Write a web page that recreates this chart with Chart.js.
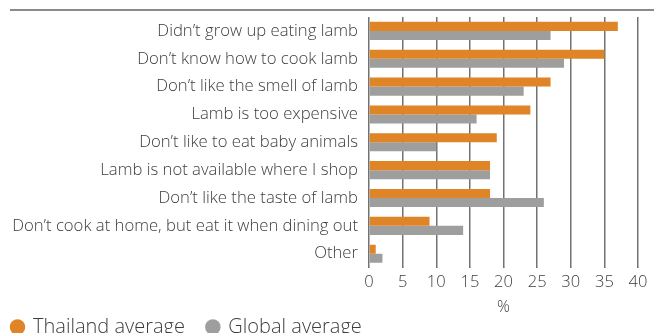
<!DOCTYPE html>
<html>
<head>
<meta charset="utf-8">
<script src="https://cdn.jsdelivr.net/npm/chart.js@4"></script>
<style>
  html, body { margin: 0; padding: 0; background: #fff; overflow: hidden; }
  #wrap { width: 654px; height: 347px; }
</style>
</head>
<body>
<div id="wrap"><canvas id="chart"></canvas></div>
<script>
const reasons = [
  "Didn\u2019t grow up eating lamb",
  "Don\u2019t know how to cook lamb",
  "Don\u2019t like the smell of lamb",
  "Lamb is too expensive",
  "Don\u2019t like to eat baby animals",
  "Lamb is not available where I shop",
  "Don\u2019t like the taste of lamb",
  "Don\u2019t cook at home, but eat it when dining out",
  "Other"
];
const thailand = [37, 35, 27, 24, 19, 18, 18, 9, 1];
const global = [27, 29, 23, 16, 10, 18, 26, 14, 2];

const FONT = "'Open Sans', 'Lato', sans-serif";
const TEXT = "#3d3d3d";

// grey rule across the top of the figure
const topRule = {
  id: "topRule",
  afterDraw(chart) {
    const c = chart.ctx;
    c.save();
    c.strokeStyle = "#8a8a8a";
    c.lineWidth = 2;
    c.beginPath();
    c.moveTo(10, 10);
    c.lineTo(chart.width, 10);
    c.stroke();
    c.restore();
  }
};

const ctx = document.getElementById("chart").getContext("2d");

new Chart(ctx, {
  type: "bar",
  data: {
    labels: reasons,
    datasets: [
      { label: "Thailand average", data: thailand, backgroundColor: "#df8427" },
      { label: "Global average", data: global, backgroundColor: "#9e9e9e" }
    ]
  },
  options: {
    indexAxis: "y",
    responsive: true,
    maintainAspectRatio: false,
    animation: false,
    barPercentage: 1,
    categoryPercentage: 0.65,
    layout: { padding: { top: 17, left: 0, right: 16, bottom: 0 } },
    plugins: {
      legend: {
        position: "bottom",
        align: "start",
        labels: {
          usePointStyle: true,
          pointStyle: "circle",
          boxWidth: 11,
          boxHeight: 11,
          padding: 12,
          color: TEXT,
          font: { family: FONT, size: 20, weight: 300 },
          // a little extra room between the two legend entries
          generateLabels(chart) {
            return Chart.defaults.plugins.legend.labels.generateLabels(chart)
              .map((item) => ({ ...item, text: item.text + "  " }));
          }
        }
      },
      tooltip: { enabled: false }
    },
    scales: {
      x: {
        min: 0,
        max: 40,
        ticks: { stepSize: 5, color: TEXT, padding: 5, font: { family: FONT, size: 16.5, weight: 300 } },
        grid: { color: "#727272", lineWidth: 1.5, tickLength: 0 },
        border: { display: false },
        // the "%" sits low, close to the legend
        title: { display: true, text: "%", color: TEXT, padding: { top: 0, bottom: -11.6 }, font: { family: FONT, size: 16, weight: 300 } }
      },
      y: {
        ticks: { color: TEXT, padding: 11, font: { family: FONT, size: 16.7, weight: 300 } },
        grid: { display: false, drawTicks: false },
        border: { display: false },
        afterFit(scale) {
          scale.width = 369;
          scale.paddingTop = 0;
          scale.paddingBottom = 0;
        }
      }
    }
  },
  plugins: [topRule]
});
</script>
</body>
</html>
